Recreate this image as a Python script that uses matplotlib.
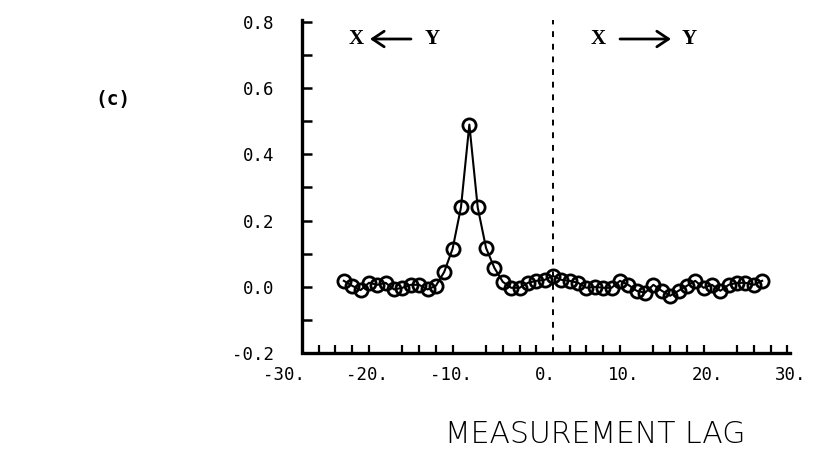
import numpy as np
import matplotlib
matplotlib.use("Agg")
import matplotlib.pyplot as plt
from matplotlib.ticker import FixedLocator
from matplotlib.transforms import ScaledTranslation

# ---- data ----
lags = list(range(-25, 26))
values = [0.018, 0.003, -0.010, 0.012, 0.006, 0.012, -0.008, -0.003, 0.006, 0.006,
          -0.008, 0.003, 0.045, 0.115, 0.240, 0.490, 0.240, 0.117, 0.057, 0.015,
          -0.003, -0.003, 0.012, 0.018, 0.021, 0.033, 0.021, 0.018, 0.012, -0.003,
          0.000, -0.003, -0.003, 0.018, 0.006, -0.012, -0.018, 0.006, -0.012, -0.027,
          -0.012, 0.003, 0.018, -0.003, 0.006, -0.012, 0.006, 0.012, 0.012, 0.006,
          0.018]
xtick_values = [-30, -20, -10, 0, 10, 20, 30]
xtick_labels = ["-30.", "-20.", "-10.", "0.", "10.", "20.", "30."]
ytick_values = [-0.2, 0.0, 0.2, 0.4, 0.6, 0.8]
ytick_labels = ["-0.2", "0.0", "0.2", "0.4", "0.6", "0.8"]
x_label = "MEASUREMENT LAG"
panel_label = "(c)"

fig = plt.figure(figsize=(8.22, 4.65), dpi=100)
W, H = 822, 465
ax = fig.add_axes([302 / W, 1 - 353 / H, (804 - 302) / W, (353 - 20) / H])
ax.set_xlim(-30, 30)
ax.set_ylim(-0.192, 0.806)

ax.plot(lags, values, color="black", lw=1.5, marker="o", ms=9.5,
        mfc="none", mec="black", mew=2.0, zorder=3)

# dashed zero-lag line
ax.axvline(0, color="black", lw=1.4, ls=(0, (3, 3.5)), zorder=2)

for s in ["top", "right"]:
    ax.spines[s].set_visible(False)
ax.spines["left"].set_linewidth(2.4)
ax.spines["bottom"].set_linewidth(2.4)
ax.spines["bottom"].set_bounds(-30, 28.3)
ax.spines["left"].set_bounds(-0.192, 0.806)

mono = ["DejaVu Sans Mono"]
ax.set_xticks(xtick_values)
ax.set_xticklabels(xtick_labels, family=mono, fontsize=12.5, ha="right")
ax.xaxis.set_minor_locator(FixedLocator(np.arange(-30, 29, 2)))
ax.tick_params(axis="x", which="major", length=0, pad=9)
ax.tick_params(axis="x", which="minor", direction="in", length=6, width=1.6)
off = ScaledTranslation(2 / 72, 0, fig.dpi_scale_trans)
for lab in ax.get_xticklabels():
    lab.set_transform(lab.get_transform() + off)

ax.set_yticks(ytick_values)
ax.set_yticklabels(ytick_labels, family=mono, fontsize=12.5)
ax.yaxis.set_minor_locator(FixedLocator(np.arange(-0.1, 0.8, 0.2)))
ax.tick_params(axis="y", which="both", direction="in", length=7, width=1.8, pad=20)

fig.text(0.5 * (455 + 735) / W, 1 - 434 / H, x_label, ha="center", va="center",
         fontsize=21.5, family=["DejaVu Sans"], fontweight="light")
fig.text(95 / W, 1 - 99 / H, panel_label, ha="left", va="center",
         fontsize=14, family=mono, fontweight="bold")

serif = ["Liberation Serif", "DejaVu Serif"]
def note(x_x, y_x, a0, a1, yc):
    fig.text(x_x / W, 1 - yc / H, "X", ha="left", va="center", fontsize=15,
             family=serif, fontweight="bold")
    fig.text(y_x / W, 1 - yc / H, "Y", ha="left", va="center", fontsize=15,
             family=serif, fontweight="bold")
    fig.add_artist(matplotlib.patches.FancyArrowPatch(
        (a0 / W, 1 - yc / H), (a1 / W, 1 - yc / H), transform=fig.transFigure,
        arrowstyle="->,head_length=6,head_width=4", lw=2.0, color="black",
        mutation_scale=1.4, shrinkA=0, shrinkB=0))

note(349, 425, 411, 370, 39)
note(591, 682, 620, 671, 39)

fig.savefig("out.png", dpi=100)
